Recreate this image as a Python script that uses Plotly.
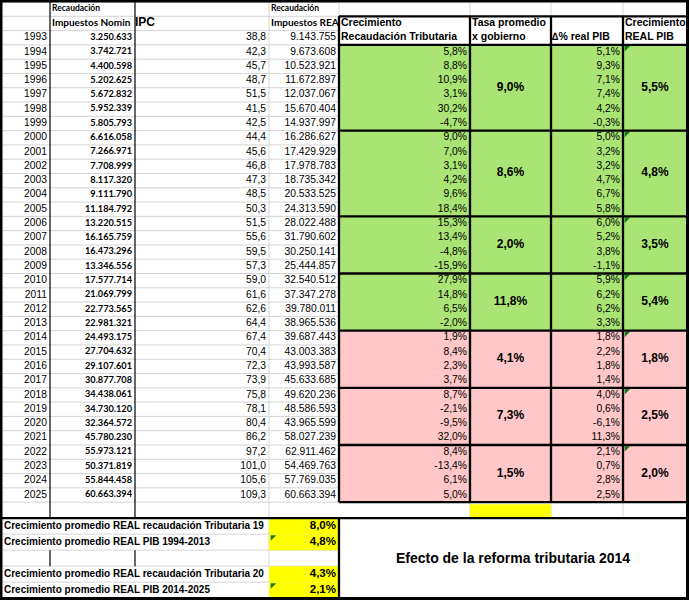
import plotly.graph_objects as go

# ---- data read from the sheet ----
years = list(range(1993, 2026))
nominal = [3250633, 3742721, 4400598, 5202625, 5672832, 5952339, 5805793,
           6616058, 7266971, 7708999, 8117320, 9111790, 11184792, 13220515,
           16165759, 16473296, 13346556, 17577714, 21069799, 22773565,
           22981321, 24493175, 27704632, 29107601, 30877708, 34438061,
           34730120, 32364572, 45780230, 55973121, 50371819, 55844458,
           60663394]
ipc = [38.8, 42.3, 45.7, 48.7, 51.5, 41.5, 42.5, 44.4, 45.6, 46.8, 47.3,
       48.5, 50.3, 51.5, 55.6, 59.5, 57.3, 59.0, 61.6, 62.6, 64.4, 67.4,
       70.4, 72.3, 73.9, 75.8, 78.1, 80.4, 86.2, 97.2, 101.0, 105.6, 109.3]
real = [9143755, 9673608, 10523921, 11672897, 12037067, 15670404, 14937997,
        16286627, 17429929, 17978783, 18735342, 20533525, 24313590,
        28022488, 31790602, 30250141, 25444857, 32540512, 37347278,
        39780011, 38965536, 39687443, 43003383, 43993587, 45633685,
        49620236, 48586593, 43965599, 58027239, 62911462, 54469763,
        57769035, 60663394]
# growth from 1994 on
tax_growth = [5.8, 8.8, 10.9, 3.1, 30.2, -4.7, 9.0, 7.0, 3.1, 4.2, 9.6, 18.4,
              15.3, 13.4, -4.8, -15.9, 27.9, 14.8, 6.5, -2.0, 1.9, 8.4, 2.3,
              3.7, 8.7, -2.1, -9.5, 32.0, 8.4, -13.4, 6.1, 5.0]
gdp_growth = [5.1, 9.3, 7.1, 7.4, 4.2, -0.3, 5.0, 3.2, 3.2, 4.7, 6.7, 5.8,
              6.0, 5.2, 3.8, -1.1, 5.9, 6.2, 6.2, 3.3, 1.8, 2.2, 1.8, 1.4,
              4.0, 0.6, -6.1, 11.3, 2.1, 0.7, 2.8, 2.5]
# government periods
group_start = [1994, 2000, 2006, 2010, 2014, 2018, 2022]
group_size = [6, 6, 4, 4, 4, 4, 4]
group_tax_avg = [9.0, 8.6, 2.0, 11.8, 4.1, 7.3, 1.5]
group_gdp_avg = [5.5, 4.8, 3.5, 5.4, 1.8, 2.5, 2.0]
reform_year = 2014

summary_labels = ["Crecimiento promedio REAL recaudación Tributaria 19",
                  "Crecimiento promedio REAL PIB 1994-2013",
                  "Crecimiento promedio REAL recaudación Tributaria 20",
                  "Crecimiento promedio REAL PIB 2014-2025"]
summary_values = [8.0, 4.8, 4.3, 2.1]
box_title = "Efecto de la reforma tributaria 2014"

# ---- sheet geometry ----
COL = [1, 50, 135, 269, 339, 470, 551, 623, 687]
TOP, ROW_H, LOW_H = 2, 14.29, 16
edges = [TOP + k * ROW_H for k in range(36)]
for i in range(5):
    edges.append(edges[35] + LOW_H * (i + 1))
edges.append(598)
BOTTOM = edges[-1]

GREEN, PINK, YELLOW = "#a9e474", "#ffc7c7", "#ffff00"
GRID, BLACK = "#d4d4d4", "#000000"
ARIAL, CALIBRI = "Liberation Sans", "Lato"
PAD = 3


def mid(k):
    return (edges[k] + edges[k + 1]) / 2


def miles(v):
    return f"{v:,}".replace(",", ".")


def dec(v):
    return f"{v:.1f}".replace(".", ",")


def pct(v):
    return dec(v) + "%"


fig = go.Figure()


def text(xs, ys, labels, pos, size=10.3, bold=False, family=ARIAL):
    fig.add_trace(go.Scatter(
        x=xs, y=ys, text=labels, mode="text", textposition=pos,
        textfont=dict(family=family, size=size, color="black",
                      weight="bold" if bold else "normal"),
        hoverinfo="skip", showlegend=False, cliponaxis=False))


def hline(y, x0, x1, color=GRID, w=1, layer="below"):
    fig.add_shape(type="line", x0=x0, x1=x1, y0=y, y1=y, layer=layer,
                  line=dict(color=color, width=w))


def vline(x, y0, y1, color=GRID, w=1, layer="below"):
    fig.add_shape(type="line", x0=x, x1=x, y0=y0, y1=y1, layer=layer,
                  line=dict(color=color, width=w))


def rect(x0, x1, y0, y1, color):
    fig.add_shape(type="rect", x0=x0, x1=x1, y0=y0, y1=y1, layer="below",
                  fillcolor=color, line=dict(width=0))


# gray grid
for k in range(41):
    hline(edges[k], COL[0], COL[4])
hline(edges[1], COL[4], COL[8])
hline(edges[36], COL[4], COL[8])
vline(COL[3], edges[0], edges[39])
vline(COL[4], edges[0], edges[1])
for c in (5, 6, 7):
    vline(COL[c], edges[0], edges[1])
    vline(COL[c], edges[35], edges[36])

# fills
row = 3
for g, start in enumerate(group_start):
    color = GREEN if start < reform_year else PINK
    rect(COL[4], COL[8], edges[row], edges[row + group_size[g]], color)
    row += group_size[g]
rect(COL[5], COL[6], edges[35] + 2, edges[36], YELLOW)
for k in (36, 37, 39, 40):
    rect(COL[3], COL[4], edges[k], edges[k + 1], YELLOW)

# black rules
for c in (1, 2):
    vline(COL[c], edges[0], edges[36], BLACK, 1.2, "above")
    vline(COL[c], edges[38], edges[39], BLACK, 1.2, "above")
THICK = 2.3
hline(edges[1], COL[4], COL[8], BLACK, THICK, "above")
row = 3
hline(edges[row], COL[4], COL[8], BLACK, THICK, "above")
for n in group_size:
    row += n
    hline(edges[row], COL[4], COL[8], BLACK, THICK, "above")
for c in range(4, 8):
    vline(COL[c], edges[1], edges[35], BLACK, THICK, "above")
hline(edges[36], COL[0], COL[8], BLACK, THICK, "above")
vline(COL[4], edges[36], BOTTOM, BLACK, THICK, "above")
# outer frame
hline(1, 0, 689, BLACK, 3, "above")
hline(BOTTOM + 0.5, 0, 689, BLACK, 3, "above")
vline(1, 0, 600, BLACK, 3, "above")
vline(687.5, 0, 600, BLACK, 3, "above")

# headers
text([COL[1] + 2, COL[3] + 2], [mid(0)] * 2, ["Recaudación"] * 2,
     "middle right", 8.5, True, CALIBRI)
text([COL[1] + 2, COL[3] + 2], [mid(1)] * 2,
     ["Impuestos Nomin", "Impuestos REA"], "middle right", 10, True, CALIBRI)
text([COL[2]], [mid(1)], ["IPC"], "middle right", 12, True)
text([COL[4] + 2, COL[5] + 2, COL[7] + 2], [mid(1)] * 3,
     ["Crecimiento", "Tasa promedio", "Crecimiento"], "middle right", 10.5, True)
text([COL[4] + 2, COL[5] + 2, COL[6] + 1, COL[7] + 2], [mid(2)] * 4,
     ["Recaudación Tributaria", "x gobierno", "∆% real PIB", "REAL PIB"],
     "middle right", 10.5, True)

# yearly rows
ys = [mid(k) for k in range(2, 2 + len(years))]
text([COL[1] - PAD] * len(years), ys, [str(y) for y in years], "middle left")
text([COL[2] - PAD] * len(years), ys, [miles(v) for v in nominal],
     "middle left", 9.2, True, CALIBRI)
text([COL[3] - PAD] * len(years), ys, [dec(v) for v in ipc], "middle left")
text([COL[4] - PAD] * len(years), ys, [miles(v) for v in real], "middle left")
gys = ys[1:]
text([COL[5] - PAD] * len(gys), gys, [pct(v) for v in tax_growth],
     "middle left")
text([COL[7] - PAD] * len(gys), gys, [pct(v) for v in gdp_growth],
     "middle left")

# period averages and corner marks
row = 3
gy, tri = [], []
for n in group_size:
    gy.append((edges[row] + edges[row + n]) / 2)
    tri.append(edges[row] + 3)
    row += n
text([(COL[5] + COL[6]) / 2] * len(gy), gy, [pct(v) for v in group_tax_avg],
     "middle center", 12, True)
text([(COL[7] + COL[8]) / 2] * len(gy), gy, [pct(v) for v in group_gdp_avg],
     "middle center", 12, True)
fig.add_trace(go.Scatter(
    x=[COL[7] + 3.5] * len(tri) + [COL[3] + 3.5] * 2,
    y=tri + [edges[37] + 3, edges[40] + 3], mode="markers",
    marker=dict(symbol="triangle-nw", size=6, color="#13791a"),
    hoverinfo="skip", showlegend=False, cliponaxis=False))

# summary block
sk = [36, 37, 39, 40]
text([COL[0] + 3] * 4, [mid(k) for k in sk], summary_labels, "middle right",
     10, True)
text([COL[4] - PAD] * 4, [mid(k) for k in sk],
     [pct(v) for v in summary_values], "middle left", 11.5, True)
text([(COL[4] + COL[8]) / 2], [(edges[36] + BOTTOM) / 2 + 1], [box_title],
     "middle center", 14, True)

fig.update_layout(
    width=690, height=600, margin=dict(l=0, r=0, t=0, b=0),
    paper_bgcolor="white", plot_bgcolor="white",
    xaxis=dict(range=[0, 690], visible=False, fixedrange=True),
    yaxis=dict(range=[600, 0], visible=False, fixedrange=True),
)
fig.write_html("out.html", config={"displayModeBar": False},
               post_script="document.body.style.margin='0';")
